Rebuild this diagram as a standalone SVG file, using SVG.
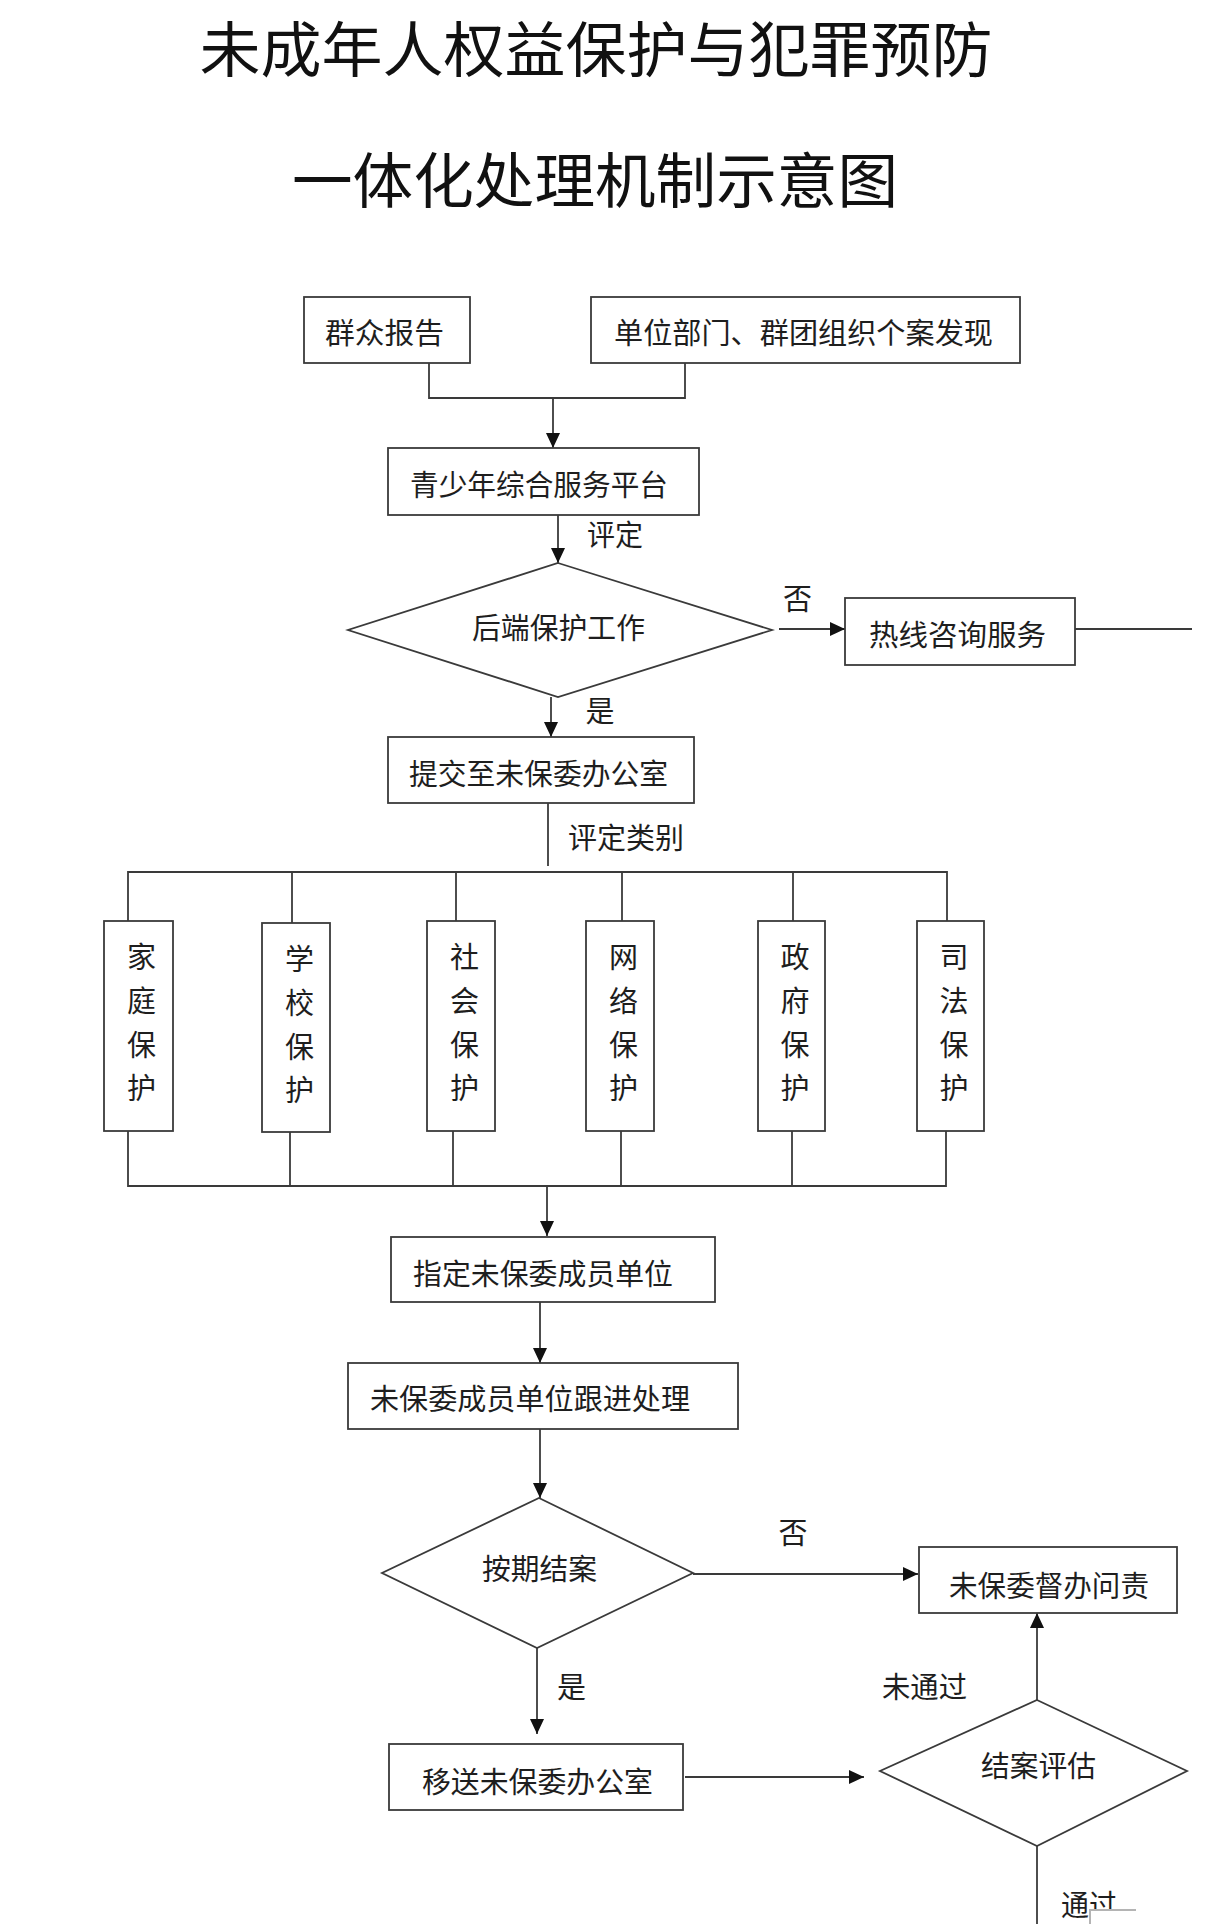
<svg xmlns="http://www.w3.org/2000/svg" width="1224" height="1924" viewBox="0 0 1224 1924">
<style>
.bg{fill:#ffffff}
.box{fill:#ffffff;stroke:#3a3a3a;stroke-width:1.8}
.ln{fill:none;stroke:#3a3a3a;stroke-width:1.8}
.t{font-family:"Noto Sans CJK SC","Noto Sans CJK JP",sans-serif;font-size:29px;fill:#1e1e1e;text-anchor:middle;dominant-baseline:central}
.title{font-family:"Noto Sans CJK SC","Noto Sans CJK JP",sans-serif;font-size:60px;fill:#111111;text-anchor:middle;dominant-baseline:central}
</style>
<defs>
<marker id="arr" markerUnits="userSpaceOnUse" markerWidth="16" markerHeight="16" viewBox="0 0 16 16" refX="15" refY="8" orient="auto">
<path d="M0,1 L15,8 L0,15 Z" fill="#111111"/>
</marker>
</defs>
<rect class="bg" x="0" y="0" width="1224" height="1924"/>

<g id="title">
<text class="title" x="596" y="45.5" textLength="793" lengthAdjust="spacingAndGlyphs">未成年人权益保护与犯罪预防</text>
<text class="title" x="595" y="176.5" textLength="606" lengthAdjust="spacingAndGlyphs">一体化处理机制示意图</text>
</g>

<g id="connectors">
<polyline class="ln" points="429,363 429,398 685,398 685,363"/>
<line class="ln" x1="553" y1="398" x2="553" y2="448" marker-end="url(#arr)"/>
<line class="ln" x1="558" y1="515" x2="558" y2="563" marker-end="url(#arr)"/>
<line class="ln" x1="779" y1="629" x2="845" y2="629" marker-end="url(#arr)"/>
<line class="ln" x1="1075" y1="629" x2="1192" y2="629"/>
<line class="ln" x1="551" y1="697" x2="551" y2="737" marker-end="url(#arr)"/>
<line class="ln" x1="548" y1="803" x2="548" y2="866"/>
<polyline class="ln" points="128,921 128,872 947,872 947,921"/>
<line class="ln" x1="292" y1="872" x2="292" y2="923"/>
<line class="ln" x1="456" y1="872" x2="456" y2="921"/>
<line class="ln" x1="622" y1="872" x2="622" y2="921"/>
<line class="ln" x1="793" y1="872" x2="793" y2="921"/>
<polyline class="ln" points="128,1131 128,1186 946,1186 946,1131"/>
<line class="ln" x1="290" y1="1132" x2="290" y2="1186"/>
<line class="ln" x1="453" y1="1131" x2="453" y2="1186"/>
<line class="ln" x1="621" y1="1131" x2="621" y2="1186"/>
<line class="ln" x1="792" y1="1131" x2="792" y2="1186"/>
<line class="ln" x1="547" y1="1186" x2="547" y2="1236" marker-end="url(#arr)"/>
<line class="ln" x1="540" y1="1302" x2="540" y2="1363" marker-end="url(#arr)"/>
<line class="ln" x1="540" y1="1429" x2="540" y2="1498" marker-end="url(#arr)"/>
<line class="ln" x1="693" y1="1574" x2="918" y2="1574" marker-end="url(#arr)"/>
<line class="ln" x1="537" y1="1648" x2="537" y2="1734" marker-end="url(#arr)"/>
<line class="ln" x1="685" y1="1777" x2="864" y2="1777" marker-end="url(#arr)"/>
<line class="ln" x1="1037" y1="1700" x2="1037" y2="1613" marker-end="url(#arr)"/>
<line class="ln" x1="1037" y1="1846" x2="1037" y2="1924"/>
</g>

<g id="n-report">
<rect class="box" x="304" y="297" width="166" height="66"/>
<text class="t" x="384.5" y="331" textLength="119" lengthAdjust="spacingAndGlyphs">群众报告</text>
</g>
<g id="n-units">
<rect class="box" x="591" y="297" width="429" height="66"/>
<text class="t" x="803.5" y="331" textLength="379" lengthAdjust="spacingAndGlyphs">单位部门、群团组织个案发现</text>
</g>
<g id="n-platform">
<rect class="box" x="388" y="448" width="311" height="67"/>
<text class="t" x="539" y="483" textLength="258" lengthAdjust="spacingAndGlyphs">青少年综合服务平台</text>
</g>
<g id="l-pingding">
<text class="t" x="615" y="532.5" textLength="56" lengthAdjust="spacingAndGlyphs">评定</text>
</g>
<g id="n-backend">
<polygon class="box" points="558,563 772,630 558,697 348,630"/>
<text class="t" x="558.5" y="626" textLength="173" lengthAdjust="spacingAndGlyphs">后端保护工作</text>
</g>
<g id="l-no1">
<text class="t" x="797.5" y="596.5">否</text>
</g>
<g id="n-hotline">
<rect class="box" x="845" y="598" width="230" height="67"/>
<text class="t" x="957.5" y="633" textLength="177" lengthAdjust="spacingAndGlyphs">热线咨询服务</text>
</g>
<g id="l-yes1">
<text class="t" x="600" y="708.5">是</text>
</g>
<g id="n-submit">
<rect class="box" x="388" y="737" width="306" height="66"/>
<text class="t" x="538.5" y="771.5" textLength="259" lengthAdjust="spacingAndGlyphs">提交至未保委办公室</text>
</g>
<g id="l-category">
<text class="t" x="626" y="835.5" textLength="116" lengthAdjust="spacingAndGlyphs">评定类别</text>
</g>

<g id="n-family">
<rect class="box" x="104" y="921" width="69" height="210"/>
<text class="t" x="141.5" y="955">家</text><text class="t" x="141.5" y="999">庭</text><text class="t" x="141.5" y="1043">保</text><text class="t" x="141.5" y="1086">护</text>
</g>
<g id="n-school">
<rect class="box" x="262" y="923" width="68" height="209"/>
<text class="t" x="299.5" y="957">学</text><text class="t" x="299.5" y="1001">校</text><text class="t" x="299.5" y="1045">保</text><text class="t" x="299.5" y="1088">护</text>
</g>
<g id="n-society">
<rect class="box" x="427" y="921" width="68" height="210"/>
<text class="t" x="464.5" y="955">社</text><text class="t" x="464.5" y="999">会</text><text class="t" x="464.5" y="1043">保</text><text class="t" x="464.5" y="1086">护</text>
</g>
<g id="n-network">
<rect class="box" x="586" y="921" width="68" height="210"/>
<text class="t" x="623.5" y="955">网</text><text class="t" x="623.5" y="999">络</text><text class="t" x="623.5" y="1043">保</text><text class="t" x="623.5" y="1086">护</text>
</g>
<g id="n-government">
<rect class="box" x="758" y="921" width="67" height="210"/>
<text class="t" x="795" y="955">政</text><text class="t" x="795" y="999">府</text><text class="t" x="795" y="1043">保</text><text class="t" x="795" y="1086">护</text>
</g>
<g id="n-judicial">
<rect class="box" x="917" y="921" width="67" height="210"/>
<text class="t" x="954" y="955">司</text><text class="t" x="954" y="999">法</text><text class="t" x="954" y="1043">保</text><text class="t" x="954" y="1086">护</text>
</g>

<g id="n-assign">
<rect class="box" x="391" y="1237" width="324" height="65"/>
<text class="t" x="543" y="1271.5" textLength="260" lengthAdjust="spacingAndGlyphs">指定未保委成员单位</text>
</g>
<g id="n-follow">
<rect class="box" x="348" y="1363" width="390" height="66"/>
<text class="t" x="530" y="1397" textLength="320" lengthAdjust="spacingAndGlyphs">未保委成员单位跟进处理</text>
</g>
<g id="n-ontime">
<polygon class="box" points="539,1498 693,1573 537,1648 382,1573"/>
<text class="t" x="539.5" y="1567" textLength="115" lengthAdjust="spacingAndGlyphs">按期结案</text>
</g>
<g id="l-no2">
<text class="t" x="793" y="1530.5">否</text>
</g>
<g id="n-accountability">
<rect class="box" x="919" y="1547" width="258" height="66"/>
<text class="t" x="1049" y="1584" textLength="200" lengthAdjust="spacingAndGlyphs">未保委督办问责</text>
</g>
<g id="l-yes2">
<text class="t" x="571.5" y="1684.5">是</text>
</g>
<g id="n-transfer">
<rect class="box" x="389" y="1744" width="294" height="66"/>
<text class="t" x="537.5" y="1780" textLength="231" lengthAdjust="spacingAndGlyphs">移送未保委办公室</text>
</g>
<g id="n-evaluate">
<polygon class="box" points="1037,1700 1187,1771 1037,1846 880,1771"/>
<text class="t" x="1038.5" y="1764" textLength="115" lengthAdjust="spacingAndGlyphs">结案评估</text>
</g>
<g id="l-fail">
<text class="t" x="924.5" y="1685" textLength="85" lengthAdjust="spacingAndGlyphs">未通过</text>
</g>
<g id="l-pass">
<text class="t" x="1089" y="1903" textLength="56" lengthAdjust="spacingAndGlyphs">通过</text>
<rect x="1090" y="1910" width="60" height="20" fill="#ffffff"/>
<polyline points="1090,1924 1090,1910 1136,1910" fill="none" stroke="#b4b4b4" stroke-width="2"/>
</g>
</svg>
